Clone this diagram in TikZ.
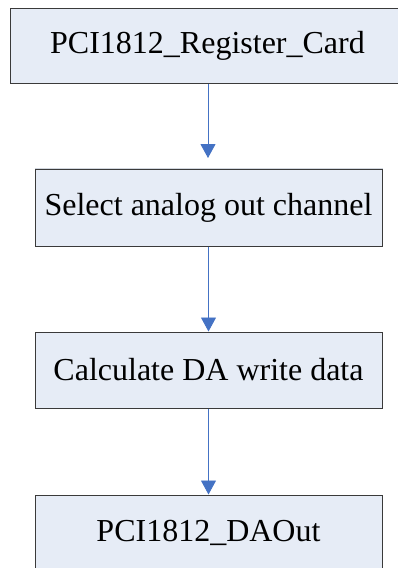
\documentclass[tikz,border=0pt]{standalone}
\usepackage{fontspec}
\setmainfont{Liberation Serif}
\usetikzlibrary{arrows.meta}
\definecolor{boxfill}{HTML}{E6ECF6}
\definecolor{boxline}{HTML}{3A3A3A}
\definecolor{arrowblue}{HTML}{4472C4}
\begin{document}
\begin{tikzpicture}[x=1pt,y=-1pt,
  stepbox/.style={draw=boxline, line width=1pt, fill=boxfill, rectangle, inner sep=0pt,
    font=\fontsize{32}{38}\selectfont, text=black},
  flow/.style={draw=arrowblue, line width=0.9pt, -{Triangle[width=15pt,length=14pt]}}]
\clip (0,0) rectangle (398,568);
\useasboundingbox (0,0) rectangle (398,568);
\node[stepbox, minimum width=396pt, minimum height=75pt] (b1) at (208,45.5) {};
\node[font=\fontsize{32}{38}\selectfont, inner sep=0pt] (t1) at (207.5,45.5) {PCI1812\_Register\_Card};
\node[stepbox, minimum width=347pt, minimum height=77pt] (b2) at (208.5,207.5) {Select analog out channel};
\node[stepbox, minimum width=347pt, minimum height=76pt] (b3) at (208.5,370) {Calculate DA write data};
\node[stepbox, minimum width=347pt, minimum height=76pt] (b4) at (208.5,533) {PCI1812\_DAOut};
\draw[draw=boxfill!80!gray, line width=1pt] (b2.north west) -- (b2.north east);
\coordinate (a1end) at (208,158);
\draw[flow] (b1.south -| a1end) -- (a1end);
\draw[flow] (b2.south) -- (b3.north);
\draw[flow] (b3.south) -- (b4.north);
\end{tikzpicture}
\end{document}
